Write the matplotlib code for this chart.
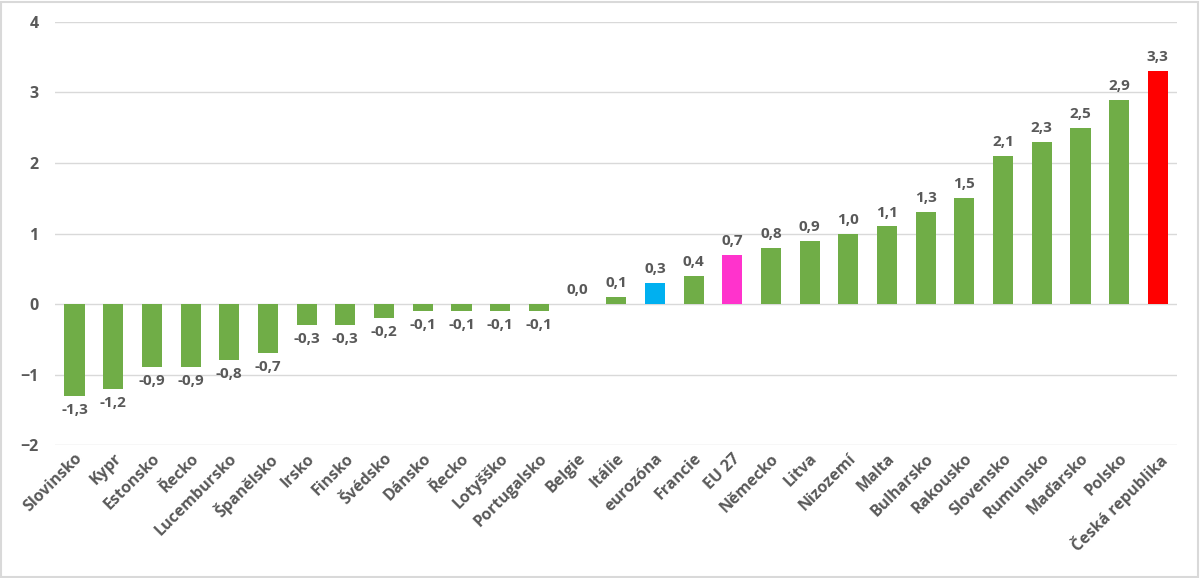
import numpy as np
import matplotlib
matplotlib.use('Agg')
from matplotlib import pyplot as plt
from matplotlib.patches import Rectangle

countries = ['Slovinsko', 'Kypr', 'Estonsko', 'Řecko', 'Lucembursko', 'Španělsko',
             'Irsko', 'Finsko', 'Švédsko', 'Dánsko', 'Řecko', 'Lotyšško',
             'Portugalsko', 'Belgie', 'Itálie', 'eurozóna', 'Francie', 'EU 27',
             'Německo', 'Litva', 'Nizozemí', 'Malta', 'Bulharsko', 'Rakousko',
             'Slovensko', 'Rumunsko', 'Maďarsko', 'Polsko', 'Česká republika']
values = [-1.3, -1.2, -0.9, -0.9, -0.8, -0.7, -0.3, -0.3, -0.2, -0.1, -0.1, -0.1,
          -0.1, 0.0, 0.1, 0.3, 0.4, 0.7, 0.8, 0.9, 1.0, 1.1, 1.3, 1.5, 2.1, 2.3,
          2.5, 2.9, 3.3]
highlight = {'eurozóna': '#00B0F0', 'EU 27': '#FF33CC', 'Česká republika': '#FF0000'}

plt.rcParams['font.family'] = ['Open Sans', 'DejaVu Sans']
text_color = '#595959'

fig = plt.figure(figsize=(12, 5.78), dpi=100)
ax = fig.add_axes([0.046, 0.230, 0.935, 0.732])

colors = [highlight.get(c, '#70AD47') for c in countries]
x = np.arange(len(countries))
ax.bar(x, values, width=0.52, color=colors, zorder=3)

for xi, v in zip(x, values):
    label = ('%.1f' % v).replace('.', ',')
    if v >= 0:
        ax.annotate(label, (xi, v), xytext=(0, 5), textcoords='offset points',
                    ha='center', va='bottom', fontsize=11, fontweight='bold', color=text_color)
    else:
        ax.annotate(label, (xi, v), xytext=(0, -5), textcoords='offset points',
                    ha='center', va='top', fontsize=11, fontweight='bold', color=text_color)

ax.set_xlim(-0.5, len(countries) - 0.5)
ax.set_ylim(-2, 4)
ax.set_yticks(range(-2, 5))
ax.grid(axis='y', color='#D9D9D9', linewidth=1, zorder=0)
for s in ax.spines.values():
    s.set_visible(False)
ax.tick_params(axis='both', length=0, colors=text_color, labelsize=11.5)
ax.tick_params(axis='y', pad=12)
ax.set_xticks(x)
ax.set_xticklabels(countries, rotation=45, ha='right', rotation_mode='anchor',
                   fontweight='bold')
for lbl in ax.get_yticklabels():
    lbl.set_fontweight('bold')
ax.tick_params(axis='x', pad=4)

fig.patches.append(Rectangle((0.001, 0.002), 0.997, 0.995, transform=fig.transFigure,
                             fill=False, edgecolor='#D9D9D9', linewidth=1.5))

fig.savefig('out.png', dpi=100)
